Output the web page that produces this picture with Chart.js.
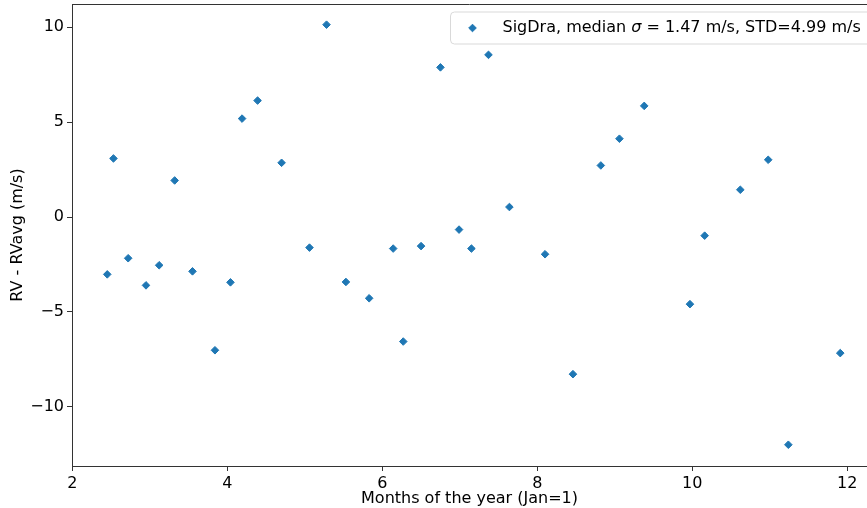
<!DOCTYPE html>
<html><head><meta charset="utf-8">
<script src="https://cdn.jsdelivr.net/npm/chart.js@4/dist/chart.umd.min.js"></script>
<style>html,body{margin:0;padding:0;background:#fff}canvas{display:block}</style>
</head><body>
<canvas id="c" width="867" height="508"></canvas>
<script>
const months = [2.45, 2.53, 2.72, 2.95, 3.12, 3.32, 3.55, 3.84, 4.04, 4.19, 4.39, 4.70, 5.06, 5.28, 5.53, 5.83, 6.14, 6.27, 6.50, 6.75, 6.99, 7.15, 7.37, 7.64, 8.10, 8.46, 8.82, 9.06, 9.38, 9.97, 10.16, 10.62, 10.98, 11.24, 11.91];
const rvDiff = [-3.02, 3.09, -2.17, -3.60, -2.54, 1.93, -2.86, -7.02, -3.44, 5.19, 6.14, 2.86, -1.61, 10.14, -3.42, -4.28, -1.66, -6.56, -1.53, 7.89, -0.66, -1.66, 8.55, 0.53, -1.96, -8.28, 2.72, 4.13, 5.86, -4.59, -0.98, 1.44, 3.02, -12.0, -7.17];
const xTicks = [2, 4, 6, 8, 10, 12];
const yTicks = [-10, -5, 0, 5, 10];
const seriesName = 'SigDra';
const medianSigma = '1.47';
const stdValue = '4.99';

const FONT = 'DejaVu Sans';
const BLUE = '#1f77b4';
const SPINE = '#333';

const frame = {
  id: 'frame',
  afterDraw(chart) {
    const {ctx, chartArea: a} = chart;
    ctx.save();
    ctx.strokeStyle = SPINE; ctx.lineWidth = 1;
    ctx.beginPath(); ctx.moveTo(a.left, a.top + 0.5); ctx.lineTo(a.right, a.top + 0.5); ctx.stroke();
    // legend box
    const x0 = a.left + 378.5, y0 = a.top + 8, w = 440, h = 32;
    ctx.fillStyle = 'rgba(255,255,255,0.8)';
    ctx.strokeStyle = '#d9d9d9';
    ctx.beginPath(); ctx.roundRect(x0, y0, w, h, 4); ctx.fill(); ctx.stroke();
    const cy = y0 + h / 2;
    ctx.fillStyle = BLUE; ctx.strokeStyle = BLUE; ctx.lineWidth = 1;
    Chart.helpers.drawPoint(ctx, {pointStyle: 'rectRot', radius: 3.8, borderWidth: 1, rotation: 0}, x0 + 22, cy);
    ctx.fillStyle = '#000';
    ctx.textBaseline = 'middle';
    let tx = x0 + 52;
    const p1 = seriesName + ', median ';
    ctx.font = '16px "' + FONT + '"';
    ctx.fillText(p1, tx, cy); tx += ctx.measureText(p1).width;
    ctx.font = 'italic 16px "' + FONT + '"';
    ctx.fillText('\u03c3', tx, cy); tx += ctx.measureText('\u03c3').width;
    ctx.font = '16px "' + FONT + '"';
    ctx.fillText(' = ' + medianSigma + ' m/s, STD=' + stdValue + ' m/s', tx, cy);
    ctx.restore();
  }
};

const fmt = v => v < 0 ? '\u2212' + Math.abs(v) : String(v);

new Chart(document.getElementById('c'), {
  type: 'scatter',
  data: {
    datasets: [{
      label: seriesName,
      data: months.map((m, i) => ({x: m, y: rvDiff[i]})),
      pointStyle: 'rectRot',
      pointRadius: 3.8,
      pointHoverRadius: 3.8,
      pointBorderWidth: 1,
      backgroundColor: BLUE,
      borderColor: BLUE
    }]
  },
  options: {
    responsive: false,
    animation: false,
    layout: {autoPadding: false, padding: {left: 0, top: 4, right: 0, bottom: 0}},
    plugins: {legend: {display: false}, tooltip: {enabled: false}},
    scales: {
      x: {
        type: 'linear', min: 1.995, max: 12.255,
        afterBuildTicks: s => { s.ticks = xTicks.map(v => ({value: v})); },
        afterFit: s => { s.height = 42; s.paddingLeft = 0; s.paddingRight = 0; },
        grid: {display: true, drawOnChartArea: false, drawTicks: true, tickLength: 5, tickColor: SPINE, tickWidth: 1},
        border: {display: true, color: SPINE, width: 1},
        ticks: {color: '#000', font: {family: FONT, size: 16}, padding: 3, maxRotation: 0, autoSkip: false, callback: fmt},
        title: {display: true, text: 'Months of the year (Jan=1)', color: '#000', font: {family: FONT, size: 16}, padding: 0}
      },
      y: {
        type: 'linear', min: -13.12, max: 11.23,
        afterBuildTicks: s => { s.ticks = yTicks.map(v => ({value: v})); },
        afterFit: s => { s.width = 72; s.paddingTop = 0; s.paddingBottom = 0; },
        grid: {display: true, drawOnChartArea: false, drawTicks: true, tickLength: 5, tickColor: SPINE, tickWidth: 1},
        border: {display: true, color: SPINE, width: 1},
        ticks: {color: '#000', font: {family: FONT, size: 16}, padding: 3, autoSkip: false, callback: fmt},
        title: {display: true, text: 'RV - RVavg (m/s)', color: '#000', font: {family: FONT, size: 16}, padding: {top: 8, bottom: 0}}
      }
    }
  },
  plugins: [frame]
});
</script>
</body></html>
